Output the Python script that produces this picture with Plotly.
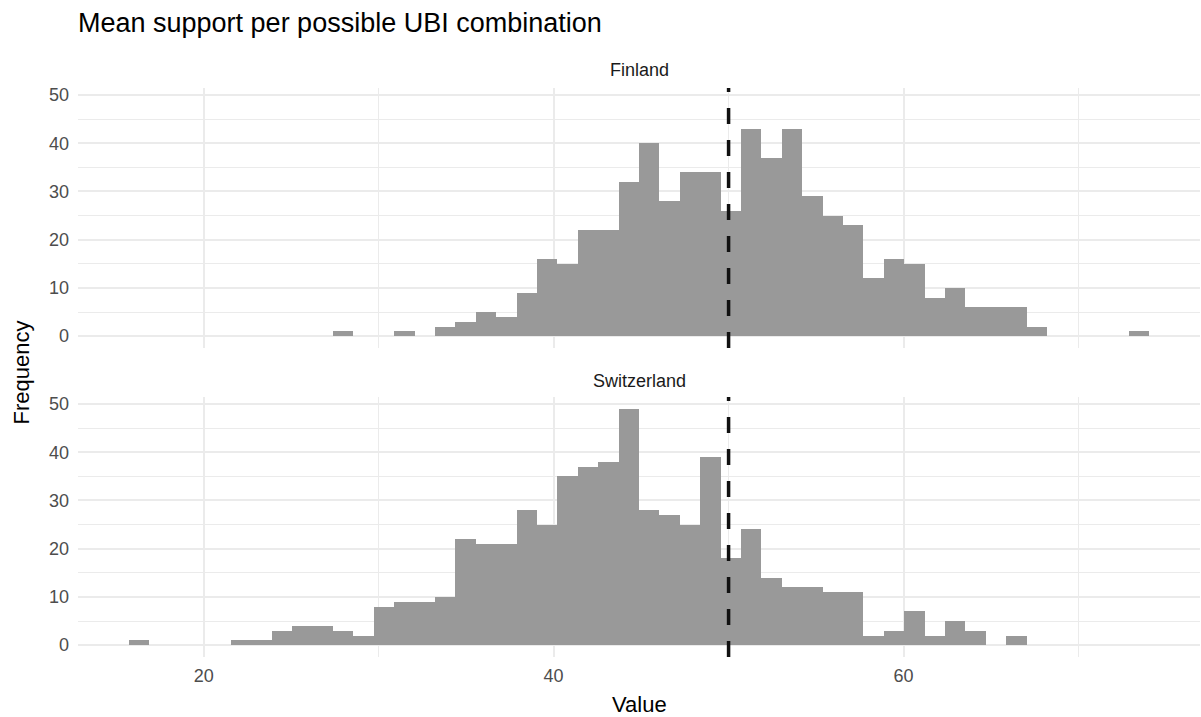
import plotly.graph_objects as go

# ---- data ----
countries = ["Finland", "Switzerland"]
bin_start = 15.73      # left edge of the first histogram bin
bin_width = 1.166      # common bin width (50 bins)
finland_counts = [0, 0, 0, 0, 0, 0, 0, 0, 0, 0,
                  1, 0, 0, 1, 0, 2, 3, 5, 4, 9,
                  16, 15, 22, 22, 32, 40, 28, 34, 34, 26,
                  43, 37, 43, 29, 25, 23, 12, 16, 15, 8,
                  10, 6, 6, 6, 2, 0, 0, 0, 0, 1]
switzerland_counts = [1, 0, 0, 0, 0, 1, 1, 3, 4, 4,
                      3, 2, 8, 9, 9, 10, 22, 21, 21, 28,
                      25, 35, 37, 38, 49, 28, 27, 25, 39, 18,
                      24, 14, 12, 12, 11, 11, 2, 3, 7, 2,
                      5, 3, 0, 2, 0, 0, 0, 0, 0, 0]
reference_value = 50
x_ticks = [20, 40, 60]
y_ticks = [0, 10, 20, 30, 40, 50]
title_text = "Mean support per possible UBI combination"
x_title = "Value"
y_title = "Frequency"

# ---- derived scales ----
n_bins = len(finland_counts)
centers = [bin_start + bin_width * (k + 0.5) for k in range(n_bins)]
x_lo = bin_start
x_hi = bin_start + bin_width * n_bins
x_pad = 0.05 * (x_hi - x_lo)
x_range = [x_lo - x_pad, x_hi + x_pad]
y_max = max(max(finland_counts), max(switzerland_counts))
y_range = [-0.05 * y_max, y_max * 1.05]

W, H = 1201, 717
ML, MR, MT, MB = 78, 1, 88, 60
plot_h = H - MT - MB
panel_h = 260
gap = plot_h - 2 * panel_h

FONT = "Liberation Sans, Arial, sans-serif"
BAR = "#999999"
GRID = "#ebebeb"
TICK_COL = "#4d4d4d"

fig = go.Figure()
series = [finland_counts, switzerland_counts]
axes = [("x", "y"), ("x2", "y2")]
for name, counts, (xa, ya) in zip(countries, series, axes):
    fig.add_trace(go.Bar(
        x=centers, y=counts, width=bin_width, name=name,
        marker=dict(color=BAR, line=dict(width=0)),
        xaxis=xa, yaxis=ya, showlegend=False,
        hovertemplate="%{x:.1f}: %{y}<extra>" + name + "</extra>",
    ))

common_x = dict(
    range=x_range, tickvals=x_ticks, showline=False, zeroline=False,
    showgrid=True, gridcolor=GRID, gridwidth=2,
    minor=dict(dtick=10, tick0=0, showgrid=True, gridcolor=GRID, gridwidth=1),
    tickfont=dict(family=FONT, size=18, color=TICK_COL),
    ticks="", fixedrange=True,
)
common_y = dict(
    range=y_range, tickvals=y_ticks, showline=False, zeroline=False,
    showgrid=True, gridcolor=GRID, gridwidth=2,
    minor=dict(dtick=5, tick0=0, showgrid=True, gridcolor=GRID, gridwidth=1),
    tickfont=dict(family=FONT, size=18, color=TICK_COL),
    ticks="", ticklabelstandoff=8, fixedrange=True,
)

top_lo = (panel_h + gap) / plot_h
bot_hi = panel_h / plot_h

fig.update_layout(
    width=W, height=H,
    margin=dict(l=ML, r=MR, t=MT, b=MB, pad=0),
    paper_bgcolor="white", plot_bgcolor="white",
    bargap=0,
    font=dict(family=FONT, color="#000000"),
    xaxis=dict(common_x, anchor="y", showticklabels=False, matches="x2"),
    yaxis=dict(common_y, domain=[top_lo, 1], anchor="x"),
    xaxis2=dict(common_x, anchor="y2", showticklabels=True, ticklabelstandoff=6),
    yaxis2=dict(common_y, domain=[0, bot_hi], anchor="x2"),
    title=dict(text=title_text, x=ML / W, xanchor="left", xref="container",
               y=1 - 23 / H, yanchor="middle", yref="container",
               font=dict(family=FONT, size=27, color="#000000")),
)

# facet strip labels
strip_y = [(MT + plot_h - 70) / plot_h, (MT + plot_h - 381) / plot_h]
for name, sy in zip(countries, strip_y):
    fig.add_annotation(text=name, x=0.5, y=sy, xref="paper", yref="paper",
                       showarrow=False, xanchor="center", yanchor="middle",
                       font=dict(family=FONT, size=18, color="#1a1a1a"))

# axis titles
fig.add_annotation(text=y_title, textangle=-90, x=(21 - ML) / (W - ML - MR),
                   y=(MT + plot_h - (MT + plot_h / 2)) / plot_h,
                   xref="paper", yref="paper", showarrow=False,
                   xanchor="center", yanchor="middle",
                   font=dict(family=FONT, size=22, color="#000000"))
fig.add_annotation(text=x_title, x=0.5, y=(MT + plot_h - 704) / plot_h,
                   xref="paper", yref="paper", showarrow=False,
                   xanchor="center", yanchor="middle",
                   font=dict(family=FONT, size=22, color="#000000"))

# dashed reference line in each panel
for xa, ya in axes:
    fig.add_shape(type="line", x0=reference_value, x1=reference_value,
                  xref=xa, yref=ya + " domain", y0=0, y1=1,
                  line=dict(color="#111111", width=3.5, dash="16px,16px"),
                  layer="above")

fig.write_html(
    "out.html",
    config={"displayModeBar": False},
    post_script="document.body.style.margin='0';document.body.style.overflow='hidden';",
)
